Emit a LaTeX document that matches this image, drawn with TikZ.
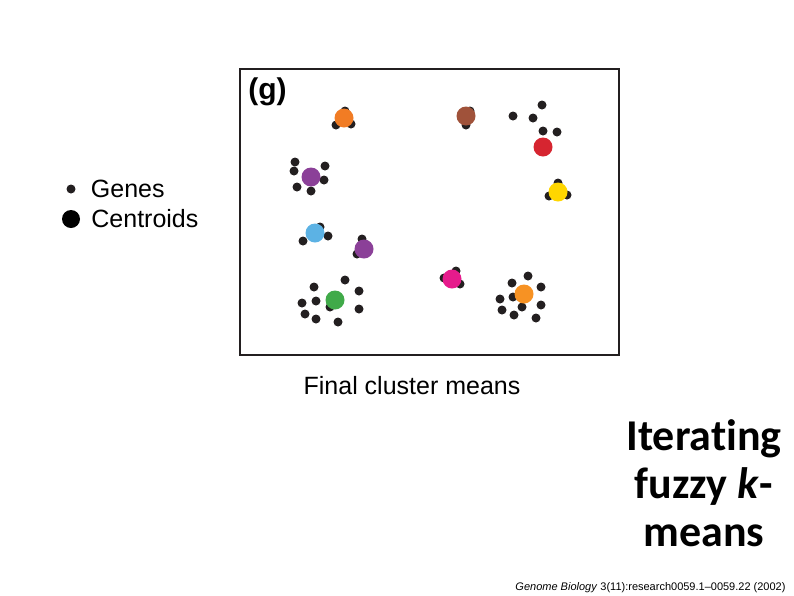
\documentclass[tikz,border=0pt]{standalone}
\usepackage{fontspec}
\setmainfont{Liberation Sans}
\newfontfamily\slidefont[Ligatures=NoCommon]{Carlito}
\usetikzlibrary{positioning}

\definecolor{dotblack}{RGB}{35,31,32}
\definecolor{cOrange}{RGB}{241,124,36}
\definecolor{cBrown}{RGB}{160,82,58}
\definecolor{cRed}{RGB}{214,37,48}
\definecolor{cPurple}{RGB}{139,64,152}
\definecolor{cYellow}{RGB}{255,214,0}
\definecolor{cBlue}{RGB}{92,178,228}
\definecolor{cMagenta}{RGB}{230,27,140}
\definecolor{cGreen}{RGB}{64,170,73}
\definecolor{cOrangeB}{RGB}{247,146,35}

\begin{document}
\begin{tikzpicture}[x=1pt,y=-1pt,
  gene/.style={circle,fill=dotblack,inner sep=0pt,minimum size=9pt},
  centroid/.style={circle,fill=#1,inner sep=0pt,minimum size=19pt},
  legendtext/.style={inner sep=0pt,font=\fontsize{25}{29}\selectfont}]

\useasboundingbox (0,0) rectangle (794,595);

% plot frame
\node[draw=dotblack,line width=2pt,minimum width=379pt,minimum height=286pt,inner sep=0pt](frame) at (429.5,212){};
\node[font=\bfseries\fontsize{30}{34}\selectfont](panel) at (267.5,92){(g)};

% genes
\node[gene](g1) at (345,111){}; \node[gene](g2) at (336,125){}; \node[gene](g3) at (351,124){};
\node[gene](g4) at (470,111){}; \node[gene](g5) at (466,125){};
\node[gene](g6) at (513,116){}; \node[gene](g7) at (542,105){}; \node[gene](g8) at (533,118){};
\node[gene](g9) at (543,131){}; \node[gene](g10) at (557,132){};
\node[gene](g11) at (295,162){}; \node[gene](g12) at (294,171){}; \node[gene](g13) at (325,166){};
\node[gene](g14) at (324,180){}; \node[gene](g15) at (297,187){}; \node[gene](g16) at (311,191){};
\node[gene](g17) at (558,183){}; \node[gene](g18) at (549,196){}; \node[gene](g19) at (567,195){};
\node[gene](g20) at (320,227){}; \node[gene](g21) at (303,241){}; \node[gene](g22) at (328,236){};
\node[gene](g23) at (362,239){}; \node[gene](g24) at (357,254){};
\node[gene](g25) at (456,271){}; \node[gene](g26) at (444,278){}; \node[gene](g27) at (460,284){};
\node[gene](g28) at (528,276){}; \node[gene](g29) at (541,287){}; \node[gene](g30) at (512,283){};
\node[gene](g31) at (500,299){}; \node[gene](g32) at (513,297){}; \node[gene](g33) at (522,307){};
\node[gene](g34) at (541,305){}; \node[gene](g35) at (502,310){}; \node[gene](g36) at (514,315){};
\node[gene](g37) at (536,318){};
\node[gene](g38) at (314,287){}; \node[gene](g39) at (345,280){}; \node[gene](g40) at (359,291){};
\node[gene](g41) at (302,303){}; \node[gene](g42) at (316,301){}; \node[gene](g43) at (305,314){};
\node[gene](g44) at (359,309){}; \node[gene](g45) at (316,319){}; \node[gene](g46) at (338,322){};
\node[gene](g47) at (330,307){};

% centroids
\node[centroid=cOrange](c1) at (344,118){};
\node[centroid=cBrown](c2) at (466,116){};
\node[centroid=cRed](c3) at (543,147){};
\node[centroid=cPurple](c4) at (311,177){};
\node[centroid=cYellow](c5) at (558,192){};
\node[centroid=cBlue](c6) at (315,233){};
\node[centroid=cPurple](c7) at (364,249){};
\node[centroid=cMagenta](c8) at (452,279){};
\node[centroid=cOrangeB](c9) at (524,294){};
\node[centroid=cGreen](c10) at (335,300){};

\node[font=\fontsize{25}{29}\selectfont](caption) at (412,386){Final cluster means};

% legend
\node[gene](legGene) at (71,189){};
\node[legendtext,right=15pt of legGene](legGeneText){Genes};
\node[centroid=black,minimum size=18pt](legCent) at (71,219){};
\node[legendtext,right=11pt of legCent](legCentText){Centroids};

% slide title and source
\node[align=center,font=\slidefont\bfseries\fontsize{44}{48}\selectfont](title) at (704,483){Iterating\\fuzzy \textit{k}-\\means};
\node[font=\fontsize{11}{13}\selectfont](source) at (650.5,588){\textit{Genome Biology} 3(11):research0059.1--0059.22 (2002)};

\end{tikzpicture}
\end{document}
